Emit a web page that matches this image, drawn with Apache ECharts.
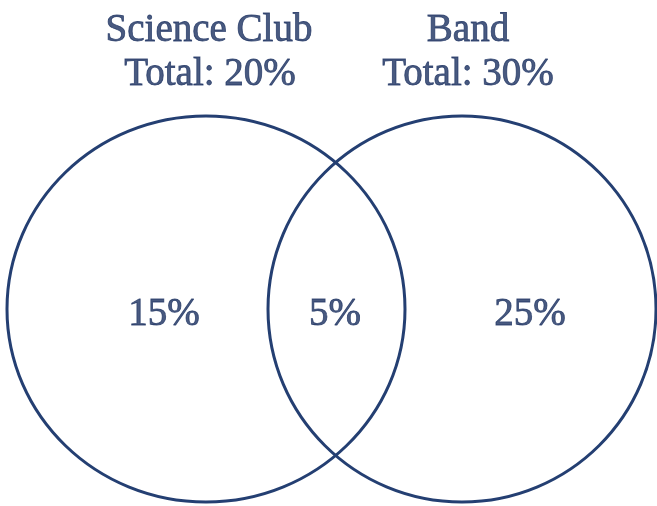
<!DOCTYPE html>
<html>
<head>
<meta charset="utf-8">
<script src="https://cdn.jsdelivr.net/npm/echarts@6/dist/echarts.min.js"></script>
<style>html,body{margin:0;padding:0;background:#fff}#c{width:657px;height:506px}</style>
</head>
<body>
<div id="c"></div>
<script>
// Data
const setNames = ['Science Club', 'Band'];
const setTotals = ['Total: 20%', 'Total: 30%'];
const regionLabels = ['15%', '5%', '25%'];

// Layout (in chart units, inverted y)
const circleLayout = [[206, 309, 199, 193], [462, 309, 194, 193]];
const namePos = [[209, 31], [468, 31]];
const totalPos = [[210, 75], [468, 75]];
const regionPos = [[164, 315], [335, 315], [530, 315]];

const chart = echarts.init(document.getElementById('c'), null, {renderer: 'canvas'});
const textColor = '#1b3160';
const lineColor = '#243f72';
const labelStyle = {
  show: true, position: 'inside',
  formatter: p => p.name,
  fontFamily: 'Liberation Serif', fontSize: 40,
  color: textColor, align: 'center', verticalAlign: 'middle',
  textBorderColor: textColor, textBorderWidth: 0.8
};
function textSeries(pos, names, size) {
  return {
    type: 'scatter',
    symbolSize: 0,
    data: pos.map((p, i) => ({value: p, name: names[i]})),
    label: Object.assign({}, labelStyle, {fontSize: size}),
    silent: true
  };
}
chart.setOption({
  backgroundColor: '#fff',
  animation: false,
  grid: {left: 0, right: 0, top: 0, bottom: 0},
  xAxis: {type: 'value', min: 0, max: 657, show: false},
  yAxis: {type: 'value', min: 0, max: 506, inverse: true, show: false},
  series: [
    {
      type: 'custom',
      data: circleLayout,
      renderItem: function (params, api) {
        const c = api.coord([api.value(0), api.value(1)]);
        const s = api.size([api.value(2), api.value(3)]);
        return {
          type: 'ellipse',
          shape: {cx: c[0], cy: c[1], rx: s[0], ry: s[1]},
          style: {fill: 'none', stroke: lineColor, lineWidth: 3}
        };
      },
      silent: true
    },
    textSeries(namePos, setNames, 39),
    textSeries(totalPos, setTotals, 39),
    textSeries(regionPos, regionLabels, 39)
  ]
});
</script>
</body>
</html>
